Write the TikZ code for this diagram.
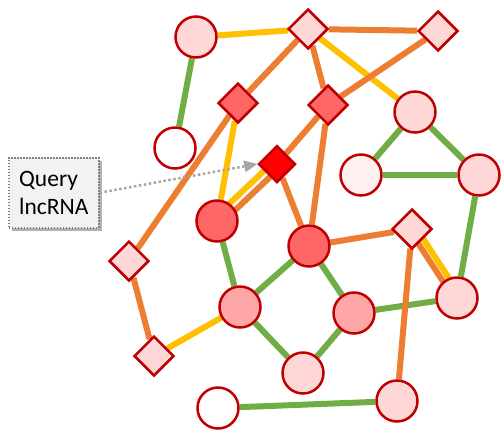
\documentclass[tikz,border=0pt]{standalone}
\usepackage{fontspec}
\setmainfont{Carlito}
\usetikzlibrary{shapes.geometric,shadows,arrows.meta}
\pgfdeclarelayer{bg}
\pgfsetlayers{bg,main}
\definecolor{bord}{HTML}{C00000}
\definecolor{yel}{HTML}{FFC000}
\definecolor{ora}{HTML}{ED7D31}
\definecolor{gre}{HTML}{70AD47}
\definecolor{pLight}{HTML}{FFD7D7}
\definecolor{pVery}{HTML}{FFF0F0}
\definecolor{pMid}{HTML}{FFA7A7}
\definecolor{pRed}{HTML}{FF6666}
\definecolor{pQ}{HTML}{FF0000}
\definecolor{qgray}{HTML}{A6A6A6}
\definecolor{boxgray}{HTML}{F2F2F2}
\begin{document}
\begin{tikzpicture}[x=1pt,y=-1pt,
  cnode/.style={circle, draw=bord, line width=2.5pt, minimum size=41pt, inner sep=0pt},
  dnode/.style={diamond, aspect=1, draw=bord, line width=2.5pt, minimum size=40pt, inner sep=0pt},
  ye/.style={draw=yel, line width=6pt},
  oe/.style={draw=ora, line width=6pt},
  ge/.style={draw=gre, line width=6pt},
  qarrow/.style={draw=qgray, line width=2.5pt, dash pattern=on 2.5pt off 2.5pt,
     -{Triangle[length=13pt,width=12pt,fill=qgray,line width=0pt]}},
  qbox/.style={draw=gray, line width=1.5pt, dash pattern=on 1.5pt off 1.5pt, fill=boxgray,
     minimum width=90pt, minimum height=70pt, inner sep=0pt, align=left,
     font=\fontsize{23.5}{28}\selectfont,
     drop shadow={shadow xshift=3pt, shadow yshift=-3pt, fill=black, opacity=0.3}}
]
\useasboundingbox (0,0) rectangle (502,432);

% circles
\node[cnode, fill=pLight] (C1) at (196,37) {};
\node[cnode, fill=white]  (C2) at (175,148) {};
\node[cnode, fill=pLight] (C3) at (415,112) {};
\node[cnode, fill=pVery]  (C4) at (361,175) {};
\node[cnode, fill=pLight] (C5) at (479,175) {};
\node[cnode, fill=pRed]   (C6) at (217,221) {};
\node[cnode, fill=pRed]   (C7) at (309,246) {};
\node[cnode, fill=pMid]   (C8) at (240,307) {};
\node[cnode, fill=pMid]   (C9) at (354,313) {};
\node[cnode, fill=pLight] (C10) at (457,298) {};
\node[cnode, fill=pLight] (C11) at (303,373) {};
\node[cnode, fill=white]  (C12) at (218,408) {};
\node[cnode, fill=pLight] (C13) at (397,401) {};
% diamonds
\node[dnode, fill=pLight] (D1) at (308,29) {};
\node[dnode, fill=pLight] (D2) at (438,31) {};
\node[dnode, fill=pRed]   (D3) at (238,103) {};
\node[dnode, fill=pRed]   (D4) at (328,105) {};
\node[dnode, fill=pQ, minimum size=37pt] (DQ) at (277,164) {};
\node[dnode, fill=pLight] (D5) at (412,229) {};
\node[dnode, fill=pLight] (D6) at (129,261) {};
\node[dnode, fill=pLight] (D7) at (154,356) {};

\begin{pgfonlayer}{bg}
  \draw[ye] (C1) -- (D1);
  \draw[ge] (C1) -- (C2);
  \draw[oe] (D1) -- (D2);
  \draw[oe] (D1) -- (D3);
  \draw[oe] (D1) -- (D4);
  \draw[ye] (D1) -- (C3);
  \draw[oe] (D2) -- (D4);
  \draw[oe] (D4) -- (DQ);
  \draw[ye] ([shift={(-2.8,-2.9)}]DQ.center) -- ([shift={(-2.8,-2.9)}]C6.center);
  \draw[oe] ([shift={(3.2,3.3)}]DQ.center) -- ([shift={(3.2,3.3)}]C6.center);
  \draw[oe] (DQ) -- (C7);
  \draw[oe] (D4) -- (C7);
  \draw[ye] (D3) -- (C6);
  \draw[oe] (D3) -- (D6);
  \draw[oe] (D6) -- (D7);
  \draw[ye] (D7) -- (C8);
  \draw[ge] (C6) -- (C8);
  \draw[ge] (C7) -- (C8);
  \draw[ge] (C7) -- (C9);
  \draw[oe] (C7) -- (D5);
  \draw[ge] (C8) -- (C11);
  \draw[ge] (C9) -- (C11);
  \draw[ge] (C9) -- (C10);
  \draw[oe] ([shift={(-2.2,1.5)}]D5.center) -- ([shift={(-2.2,1.5)}]C10.center);
  \draw[ye] ([shift={(3.4,-2.2)}]D5.center) -- ([shift={(3.4,-2.2)}]C10.center);
  \draw[oe] (D5) -- (C13);
  \draw[ge] (C12) -- (C13);
  \draw[ge] (C10) -- (C5);
  \draw[ge] (C3) -- (C4);
  \draw[ge] (C3) -- (C5);
  \draw[ge] (C4) -- (C5);
\end{pgfonlayer}

\node[qbox, anchor=north west] (Q) at (8,157) {Query\\lncRNA};
\draw[qarrow] (Q.east) -- (DQ.west);
\end{tikzpicture}
\end{document}
